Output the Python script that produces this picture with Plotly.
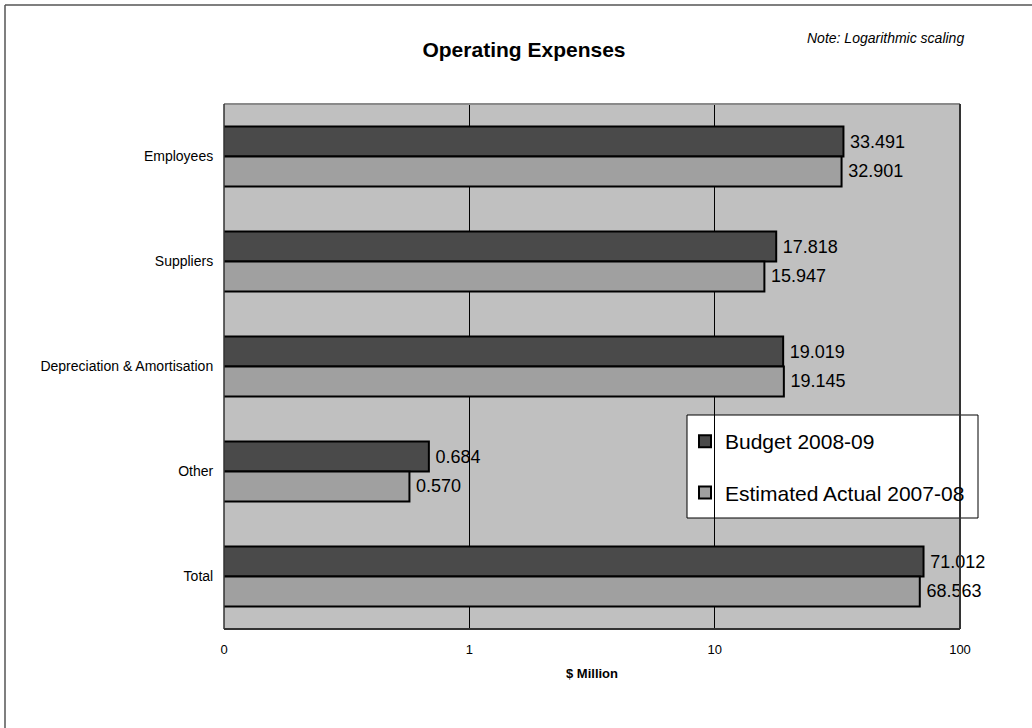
import plotly.graph_objects as go

categories = ["Employees", "Suppliers", "Depreciation & Amortisation", "Other", "Total"]
budget_2008_09 = [33.491, 17.818, 19.019, 0.684, 71.012]
estimated_2007_08 = [32.901, 15.947, 19.145, 0.570, 68.563]
tick_values = [0.1, 1, 10, 100]
tick_labels = ["0", "1", "10", "100"]

FONT = "Liberation Sans, Arial, sans-serif"

# plot area in pixels
PL, PR, PT, PB = 224, 960, 104, 629
PW, PH = PR - PL, PB - PT


def px(x):
    return (x - PL) / PW


def py(y):
    return 1 - (y - PT) / PH


fig = go.Figure()
fig.add_trace(go.Bar(
    y=categories, x=budget_2008_09, orientation="h", name="Budget 2008-09",
    legendgroup="b",
    marker=dict(color="#4A4A4A", line=dict(color="#000000", width=2)),
    text=["\u2009" + f"{v:.3f}" for v in budget_2008_09], textposition="outside",
    textfont=dict(size=18, color="#000000", family=FONT), cliponaxis=False,
))
fig.add_trace(go.Bar(
    y=categories, x=estimated_2007_08, orientation="h", name="Estimated Actual 2007-08",
    legendgroup="e",
    marker=dict(color="#A0A0A0", line=dict(color="#000000", width=2)),
    text=["\u2009" + f"{v:.3f}" for v in estimated_2007_08], textposition="outside",
    textfont=dict(size=18, color="#000000", family=FONT), cliponaxis=False,
))

fig.update_layout(
    width=1032, height=728,
    margin=dict(l=PL, r=1032 - PR, t=PT, b=728 - PB),
    paper_bgcolor="#FFFFFF", plot_bgcolor="#C0C0C0",
    barmode="group", bargap=0.43, bargroupgap=0,
    font=dict(family=FONT, color="#000000", size=12),
    title=dict(text="<b>Operating Expenses</b>", x=524 / 1032, xanchor="center",
               y=1 - 50 / 728, yanchor="middle", font=dict(size=21, family=FONT)),
    showlegend=True,
    legend=dict(x=px(685), y=py(421), xref="paper", yref="paper",
                xanchor="left", yanchor="top",
                bgcolor="rgba(0,0,0,0)", borderwidth=0,
                font=dict(size=21, family=FONT), tracegroupgap=21,
                traceorder="grouped"),
    xaxis=dict(type="log", range=[-1, 2], tickvals=tick_values, ticktext=tick_labels,
               showgrid=True, gridcolor="#000000", gridwidth=1,
               zeroline=False, showline=False, ticks="outside", ticklen=8,
               tickcolor="rgba(0,0,0,0)",
               tickfont=dict(size=13, family=FONT),
               title=dict(text="<b>$ Million</b>", font=dict(size=13, family=FONT), standoff=13)),
    yaxis=dict(type="category", autorange="reversed", showgrid=False, zeroline=False,
               showline=False, ticks="outside", ticklen=7, tickcolor="rgba(0,0,0,0)",
               tickfont=dict(size=14, family=FONT)),
    annotations=[dict(text="<i>Note: Logarithmic scaling</i>", x=px(966), y=py(38),
                      xref="paper", yref="paper", xanchor="right", yanchor="middle",
                      showarrow=False, font=dict(size=14, family=FONT))],
    shapes=[
        # legend box
        dict(type="rect", xref="paper", yref="paper", x0=px(687), x1=px(978),
             y0=py(518), y1=py(415), line=dict(color="#000000", width=1),
             fillcolor="#FFFFFF", layer="between"),
        # plot area border
        dict(type="line", xref="paper", yref="paper", x0=0, x1=1, y0=1, y1=1,
             line=dict(color="#8A8A8A", width=2), layer="above"),
        dict(type="line", xref="paper", yref="paper", x0=0, x1=0, y0=0, y1=1,
             line=dict(color="#333333", width=1.5), layer="above"),
        dict(type="line", xref="paper", yref="paper", x0=1, x1=1, y0=0, y1=1,
             line=dict(color="#333333", width=2), layer="above"),
        dict(type="line", xref="paper", yref="paper", x0=0, x1=1, y0=0, y1=0,
             line=dict(color="#333333", width=2), layer="above"),
        # outer chart border (top and left visible)
        dict(type="line", xref="paper", yref="paper", x0=px(5), x1=px(5), y0=py(740), y1=py(5),
             line=dict(color="#555555", width=1.5), layer="above"),
        dict(type="line", xref="paper", yref="paper", x0=px(5), x1=px(1040), y0=py(5), y1=py(5),
             line=dict(color="#555555", width=1.5), layer="above"),
    ],
)

fig.write_html("out.html")
